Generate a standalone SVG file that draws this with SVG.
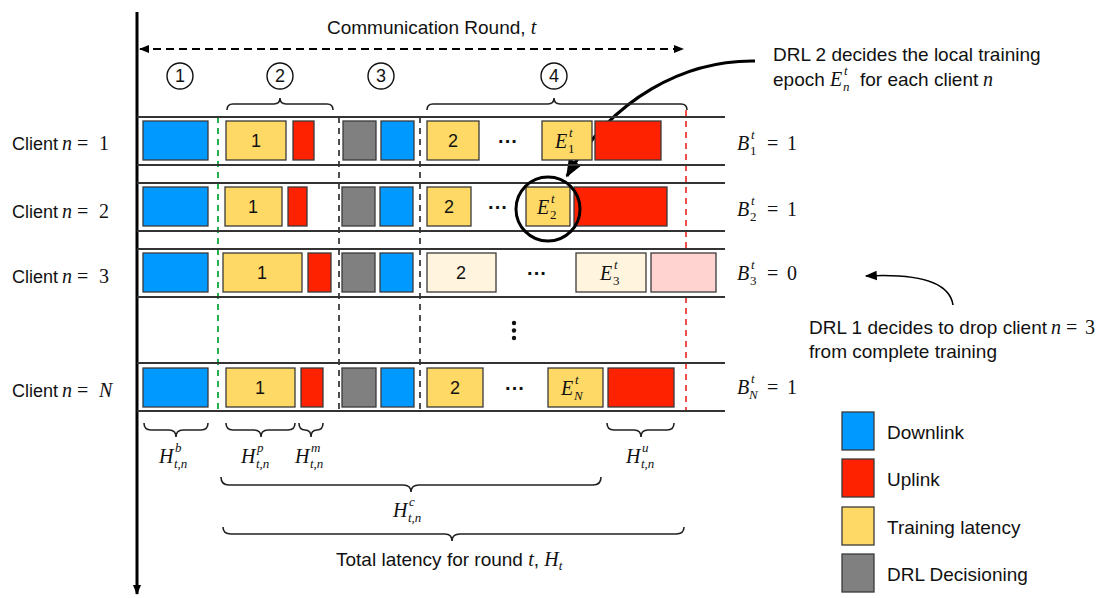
<svg xmlns="http://www.w3.org/2000/svg" width="1102" height="598" viewBox="0 0 1102 598">
<style>
.t{font-family:"Liberation Sans",Arial,sans-serif;font-size:19px;fill:#111}
.m{font-family:"Liberation Serif","Times New Roman",serif;font-style:italic;font-size:20px;fill:#111}
.mu{font-family:"Liberation Serif","Times New Roman",serif;font-style:normal;font-size:20px;fill:#111}
.s{font-family:"Liberation Serif","Times New Roman",serif;font-style:italic;font-size:13px;fill:#111}
.su{font-family:"Liberation Serif","Times New Roman",serif;font-style:normal;font-size:13px;fill:#111}
.bx{stroke:#3a3a3a;stroke-width:1.3}
.dl{fill:#0099ff}.ul{fill:#ff2200}.tr{fill:#ffd966}.dr{fill:#808080}
.trl{fill:#fff4dd}.ull{fill:#ffd3cf}
.row{stroke:#333;stroke-width:2}
.br{fill:none;stroke:#222;stroke-width:1.6}
.num{font-family:"Liberation Sans",Arial,sans-serif;font-size:18px;fill:#111;text-anchor:middle}
.dots{font-family:"Liberation Sans",Arial,sans-serif;font-size:20px;font-weight:bold;fill:#111;text-anchor:middle}
.cir{fill:none;stroke:#111;stroke-width:1.4}
</style>
<defs>
<marker id="ah" viewBox="0 0 10 10" refX="9" refY="5" markerWidth="10" markerHeight="10" markerUnits="userSpaceOnUse" orient="auto-start-reverse"><path d="M0,1 L10,5 L0,9 z" fill="#000"/></marker>
<marker id="ahb" viewBox="0 0 10 10" refX="9" refY="5" markerWidth="18" markerHeight="18" markerUnits="userSpaceOnUse" orient="auto"><path d="M0,1 L10,5 L0,9 z" fill="#000"/></marker>
<marker id="ahm" viewBox="0 0 10 10" refX="9" refY="5" markerWidth="14" markerHeight="12" markerUnits="userSpaceOnUse" orient="auto"><path d="M0,1 L10,5 L0,9 z" fill="#000"/></marker>
</defs>

<g id="connectors">
<line x1="137" y1="12" x2="137" y2="594" stroke="#000" stroke-width="3" marker-end="url(#ah)"/>
<line x1="140" y1="49" x2="683" y2="49" stroke="#000" stroke-width="2" stroke-dasharray="8,5" marker-start="url(#ah)" marker-end="url(#ah)"/>
<line x1="218" y1="117" x2="218" y2="411" stroke="#22b14c" stroke-width="2" stroke-dasharray="6,5"/>
<line x1="339" y1="117" x2="339" y2="411" stroke="#222" stroke-width="1.6" stroke-dasharray="6,5"/>
<line x1="420" y1="117" x2="420" y2="411" stroke="#222" stroke-width="1.6" stroke-dasharray="6,5"/>
<line x1="686" y1="110" x2="686" y2="411" stroke="#ee2222" stroke-width="1.6" stroke-dasharray="6,5"/>
<path d="M755,61 C685,60 612,98 567,176" fill="none" stroke="#000" stroke-width="3.2" marker-end="url(#ahb)"/>
<path d="M953,305 C950,285 925,273 866,276" fill="none" stroke="#000" stroke-width="1.6" marker-end="url(#ahm)"/>
</g>

<g id="rowlines">
<line class="row" x1="137" y1="117" x2="725" y2="117"/><line class="row" x1="137" y1="165" x2="725" y2="165"/>
<line class="row" x1="137" y1="183" x2="725" y2="183"/><line class="row" x1="137" y1="231" x2="725" y2="231"/>
<line class="row" x1="137" y1="249" x2="725" y2="249"/><line class="row" x1="137" y1="297" x2="725" y2="297"/>
<line class="row" x1="137" y1="363" x2="725" y2="363"/><line class="row" x1="137" y1="411" x2="725" y2="411"/>
</g>

<g id="header">
<text class="t" x="327" y="34">Communication Round, <tspan class="m">t</tspan></text>
<circle class="cir" cx="180" cy="76" r="13"/><text class="num" x="180" y="82">1</text>
<circle class="cir" cx="280" cy="76" r="13"/><text class="num" x="280" y="82">2</text>
<circle class="cir" cx="381" cy="76" r="13"/><text class="num" x="381" y="82">3</text>
<circle class="cir" cx="554" cy="76" r="13"/><text class="num" x="554" y="82">4</text>
<path class="br" d="M227,110 Q227,104 233,104 L274,104 Q280,104 280,98 Q280,104 286,104 L327,104 Q333,104 333,110"/>
<path class="br" d="M427,110 Q427,104 433,104 L548,104 Q554,104 554,98 Q554,104 560,104 L681,104 Q687,104 687,110"/>
</g>

<g id="client1">
<text class="t" x="12" y="150" style="font-size:18px">Client</text><text class="m" x="62" y="150">n</text><text class="mu" x="77" y="150">=</text><text class="mu" x="99" y="150">1</text>
<rect class="bx dl" x="143" y="121" width="65" height="39"/>
<rect class="bx tr" x="226" y="121" width="60" height="39"/><text class="num" x="256" y="147">1</text>
<rect class="bx ul" x="293" y="121" width="21" height="39"/>
<rect class="bx dr" x="343" y="121" width="33" height="39"/>
<rect class="bx dl" x="381" y="121" width="33" height="39"/>
<rect class="bx tr" x="427" y="121" width="52" height="39"/><text class="num" x="453" y="147">2</text>
<text class="dots" x="508" y="148">···</text>
<rect class="bx tr" x="542" y="121" width="50" height="39"/>
<text class="m" x="555" y="148">E</text><text class="s" x="569" y="137">t</text><text class="su" x="568" y="153">1</text>
<rect class="bx ul" x="595" y="121" width="66" height="39"/>
<text class="m" x="737" y="150">B</text><text class="s" x="751" y="139">t</text><text class="su" x="750" y="155">1</text><text class="mu" x="767" y="150">=</text><text class="mu" x="787" y="150">1</text>
</g>

<g id="client2">
<text class="t" x="12" y="218" style="font-size:18px">Client</text><text class="m" x="62" y="218">n</text><text class="mu" x="77" y="218">=</text><text class="mu" x="99" y="218">2</text>
<rect class="bx dl" x="143" y="187" width="65" height="39"/>
<rect class="bx tr" x="225" y="187" width="57" height="39"/><text class="num" x="253" y="213">1</text>
<rect class="bx ul" x="288" y="187" width="19" height="39"/>
<rect class="bx dr" x="342" y="187" width="33" height="39"/>
<rect class="bx dl" x="380" y="187" width="33" height="39"/>
<rect class="bx tr" x="427" y="187" width="44" height="39"/><text class="num" x="449" y="213">2</text>
<text class="dots" x="498" y="214">···</text>
<rect class="bx tr" x="526" y="187" width="44" height="39"/>
<text class="m" x="537" y="214">E</text><text class="s" x="551" y="203">t</text><text class="su" x="550" y="219">2</text>
<rect class="bx ul" x="574" y="187" width="93" height="39"/>
<circle cx="548" cy="209" r="32" fill="none" stroke="#000" stroke-width="3"/>
<text class="m" x="737" y="216">B</text><text class="s" x="751" y="205">t</text><text class="su" x="750" y="221">2</text><text class="mu" x="767" y="216">=</text><text class="mu" x="787" y="216">1</text>
</g>

<g id="client3">
<text class="t" x="12" y="283" style="font-size:18px">Client</text><text class="m" x="62" y="283">n</text><text class="mu" x="77" y="283">=</text><text class="mu" x="99" y="283">3</text>
<rect class="bx dl" x="143" y="253" width="65" height="39"/>
<rect class="bx tr" x="223" y="253" width="79" height="39"/><text class="num" x="262" y="279">1</text>
<rect class="bx ul" x="308" y="253" width="23" height="39"/>
<rect class="bx dr" x="342" y="253" width="33" height="39"/>
<rect class="bx dl" x="380" y="253" width="33" height="39"/>
<rect class="bx trl" x="427" y="253" width="69" height="39"/><text class="num" x="461" y="279">2</text>
<text class="dots" x="537" y="280">···</text>
<rect class="bx trl" x="576" y="253" width="70" height="39"/>
<text class="m" x="600" y="280">E</text><text class="s" x="614" y="269">t</text><text class="su" x="613" y="285">3</text>
<rect class="bx ull" x="651" y="253" width="65" height="39"/>
<text class="m" x="737" y="280">B</text><text class="s" x="751" y="269">t</text><text class="su" x="750" y="285">3</text><text class="mu" x="767" y="280">=</text><text class="mu" x="787" y="280">0</text>
</g>

<g id="vdots">
<circle cx="514" cy="323" r="2.2" fill="#111"/><circle cx="514" cy="330.5" r="2.2" fill="#111"/><circle cx="514" cy="338" r="2.2" fill="#111"/>
</g>

<g id="clientN">
<text class="t" x="12" y="397" style="font-size:18px">Client</text><text class="m" x="62" y="397">n</text><text class="mu" x="77" y="397">=</text><text class="m" x="99" y="397">N</text>
<rect class="bx dl" x="143" y="368" width="65" height="39"/>
<rect class="bx tr" x="226" y="368" width="69" height="39"/><text class="num" x="260" y="394">1</text>
<rect class="bx ul" x="301" y="368" width="22" height="39"/>
<rect class="bx dr" x="342" y="368" width="34" height="39"/>
<rect class="bx dl" x="381" y="368" width="33" height="39"/>
<rect class="bx tr" x="427" y="368" width="56" height="39"/><text class="num" x="455" y="394">2</text>
<text class="dots" x="515" y="395">···</text>
<rect class="bx tr" x="548" y="368" width="55" height="39"/>
<text class="m" x="561" y="395">E</text><text class="s" x="575" y="384">t</text><text class="s" x="574" y="400">N</text>
<rect class="bx ul" x="608" y="368" width="66" height="39"/>
<text class="m" x="737" y="394">B</text><text class="s" x="751" y="383">t</text><text class="s" x="749" y="399">N</text><text class="mu" x="767" y="394">=</text><text class="mu" x="787" y="394">1</text>
</g>

<g id="latency-braces">
<path class="br" d="M144,423 Q144,430 151,430 L169,430 Q176,430 176,437 Q176,430 183,430 L201,430 Q208,430 208,423"/>
<text class="m" x="159" y="463">H</text><text class="s" x="175" y="452">b</text><text class="s" x="174" y="468">t,n</text>
<path class="br" d="M226,423 Q226,430 233,430 L254,430 Q261,430 261,437 Q261,430 268,430 L288,430 Q295,430 295,423"/>
<text class="m" x="241" y="463">H</text><text class="s" x="257" y="452">p</text><text class="s" x="256" y="468">t,n</text>
<path class="br" d="M299,423 Q299,430 305,430 Q311,430 311,437 Q311,430 317,430 Q323,430 323,423"/>
<text class="m" x="295" y="463">H</text><text class="s" x="311" y="452">m</text><text class="s" x="310" y="468">t,n</text>
<path class="br" d="M607,423 Q607,430 614,430 L634,430 Q641,430 641,437 Q641,430 648,430 L667,430 Q674,430 674,423"/>
<text class="m" x="626" y="463">H</text><text class="s" x="642" y="452">u</text><text class="s" x="641" y="468">t,n</text>
<path class="br" d="M221,477 Q221,485 229,485 L403,485 Q411,485 411,492 Q411,485 419,485 L593,485 Q601,485 601,477"/>
<text class="m" x="393" y="517">H</text><text class="s" x="409" y="506">c</text><text class="s" x="408" y="522">t,n</text>
<path class="br" d="M223,527 Q223,534 231,534 L445,534 Q452,534 452,541 Q452,534 460,534 L676,534 Q684,534 684,527"/>
<text class="t" x="336" y="566">Total latency for round <tspan class="m">t</tspan>, <tspan class="m">H</tspan><tspan class="s" dy="4">t</tspan></text>
</g>

<g id="annotations">
<text class="t" x="773" y="61">DRL 2 decides the local training</text>
<text class="t" x="773" y="86">epoch</text><text class="m" x="830" y="86">E</text><text class="s" x="844" y="75">t</text><text class="s" x="843" y="91">n</text><text class="t" x="860" y="86">for each client</text><text class="m" x="983" y="86">n</text>
<text class="t" x="809" y="334">DRL 1 decides to drop client</text><text class="m" x="1051" y="334">n</text><text class="mu" x="1066" y="334">=</text><text class="mu" x="1085" y="334">3</text>
<text class="t" x="809" y="358">from complete training</text>
</g>

<g id="legend">
<rect class="bx dl" x="842" y="412" width="32" height="38"/><text class="t" x="887" y="439">Downlink</text>
<rect class="bx ul" x="842" y="459" width="32" height="38"/><text class="t" x="887" y="486">Uplink</text>
<rect class="bx tr" x="842" y="507" width="32" height="38"/><text class="t" x="887" y="534">Training latency</text>
<rect class="bx dr" x="842" y="554" width="32" height="38"/><text class="t" x="887" y="581">DRL Decisioning</text>
</g>
</svg>
